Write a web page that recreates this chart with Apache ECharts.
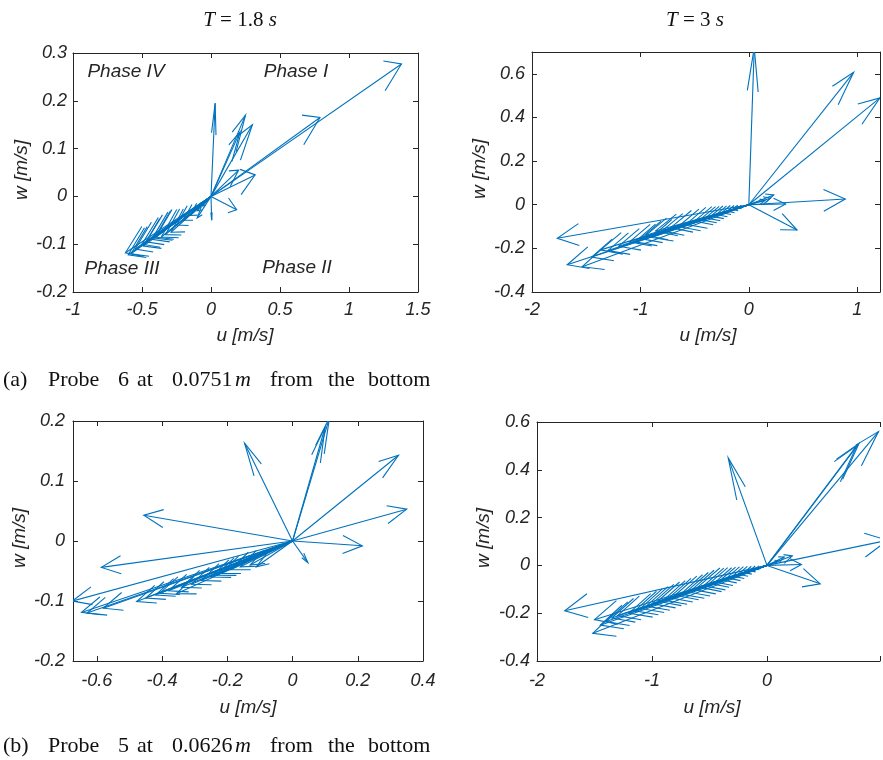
<!DOCTYPE html>
<html>
<head>
<meta charset="utf-8">
<script src="https://cdn.jsdelivr.net/npm/echarts@6/dist/echarts.min.js"></script>
<style>html,body{margin:0;padding:0;background:#fff;}#c{width:883px;height:760px;}</style>
</head>
<body>
<div id="c"></div>
<script>
// ---- Data (u, w tips of velocity vectors, all starting at origin) ----
// (a) Probe 6, T = 1.8 s
const tlU = [1.38, 0.79, 0.32, 0.2, 0.25, 0.3, 0.21, 0.03, 0.005, 0.186, -0.1, -0.06, -0.1, -0.15, -0.2, -0.25, -0.29, -0.33, -0.36, -0.4, -0.43, -0.47, -0.5, -0.55, -0.58, -0.6, -0.62, -0.49, -0.41];
const tlW = [0.277, 0.165, 0.045, 0.055, 0.17, 0.15, 0.135, 0.195, -0.05, -0.028, -0.045, -0.02, -0.03, -0.04, -0.05, -0.06, -0.075, -0.08, -0.085, -0.085, -0.09, -0.095, -0.1, -0.11, -0.12, -0.122, -0.118, -0.104, -0.087];
// (a) Probe 6, T = 3 s
const trU = [0.05, 0.967, 1.21, 0.89, 0.445, 0.34, 0.23, 0.2, 0.15, -1.767, -1.675, -1.536, -1.367, -1.45, -1.3, -1.2, -1.1, -1.05, -1.0, -0.95, -0.9, -0.86, -0.8, -0.72, -0.65, -0.58, -0.5, -0.45, -0.4, -0.35, -0.3, -0.25, -0.2, -0.15, -0.1];
const trW = [0.72, 0.607, 0.49, 0.026, -0.116, 0.003, 0.045, 0.03, 0.02, -0.154, -0.275, -0.284, -0.207, -0.24, -0.21, -0.19, -0.17, -0.17, -0.155, -0.14, -0.15, -0.12, -0.12, -0.105, -0.1, -0.09, -0.075, -0.068, -0.06, -0.052, -0.045, -0.036, -0.03, -0.022, -0.015];
// (b) Probe 5, T = 1.8 s
const blU = [0.113, 0.1, -0.147, 0.325, 0.35, 0.214, 0.047, -0.456, -0.586, -0.675, -0.647, -0.63, -0.58, -0.478, -0.407, -0.356, -0.234, -0.111, -0.45, -0.42, -0.38, -0.34, -0.31, -0.28, -0.25, -0.22, -0.19, -0.16, -0.13];
const blW = [0.205, 0.19, 0.163, 0.143, 0.053, -0.008, -0.036, 0.043, -0.044, -0.1, -0.119, -0.12, -0.112, -0.101, -0.087, -0.088, -0.057, -0.043, -0.095, -0.09, -0.083, -0.077, -0.072, -0.066, -0.06, -0.054, -0.048, -0.043, -0.04];
// (b) Probe 5, T = 3 s
const brU = [-0.337, 0.8, 0.97, 0.78, 1.05, 0.463, 0.3, 0.22, 0.15, 0.1, -1.759, -1.515, -1.5, -1.4, -1.45, -1.35, -1.3, -1.2, -1.15, -1.1, -1.05, -1.0, -0.95, -0.9, -0.85, -0.8, -0.75, -0.7, -0.65, -0.6, -0.55, -0.5, -0.45, -0.4, -0.35, -0.3, -0.25, -0.2, -0.15, -0.1];
const brW = [0.45, 0.51, 0.56, 0.5, 0.105, -0.077, 0.004, 0.04, 0.035, 0.02, -0.19, -0.284, -0.227, -0.235, -0.25, -0.22, -0.21, -0.2, -0.19, -0.18, -0.17, -0.16, -0.15, -0.145, -0.135, -0.125, -0.12, -0.11, -0.1, -0.09, -0.085, -0.075, -0.07, -0.06, -0.052, -0.045, -0.037, -0.03, -0.022, -0.015];

// axis extents / tick steps (the right-hand panels are cut by the figure edge)
const tlX = [-1, 1.5, 0.5], tlY = [-0.2, 0.3, 0.1];
const trX = [-2, 1.21, 1], trY = [-0.4, 0.7, 0.2];
const blX = [-0.673, 0.4, 0.2], blY = [-0.2, 0.2, 0.1];
const brX = [-2, 0.983, 1], brY = [-0.4, 0.6, 0.2];

const titles = ['1.8', '3'];
const captionA = ['(a)', 'Probe', '6', 'at', '0.0751', 'm', 'from', 'the', 'bottom'];
const captionB = ['(b)', 'Probe', '5', 'at', '0.0626', 'm', 'from', 'the', 'bottom'];
const phases = ['Phase IV', 'Phase I', 'Phase III', 'Phase II'];

// ---- Build chart ----
const BLUE = '#0072BD', INK = '#262626';
const panels = [
  {u: tlU, w: tlW, x: tlX, y: tlY, cap: 0.127, grid: {left: 73, top: 53, width: 345, height: 239}, ym: 6, xm: 9, right: true},
  {u: trU, w: trW, x: trX, y: trY, cap: 0.2, grid: {left: 532, top: 52, width: 350, height: 240}, ym: 7, xm: 9, right: true},
  {u: blU, w: blW, x: blX, y: blY, cap: 0.06, grid: {left: 73, top: 421, width: 350, height: 240}, ym: 8, xm: 11, right: true},
  {u: brU, w: brW, x: brX, y: brY, cap: 0.2, grid: {left: 537, top: 422, width: 346, height: 239}, ym: 7, xm: 11, right: false}
];

function fmtFactory(step) {
  return function (v) {
    const k = v / step;
    if (Math.abs(k - Math.round(k)) > 1e-6) return '';
    return String(parseFloat((Math.round(k) * step).toFixed(3)));
  };
}
const labelBase = {color: INK, fontStyle: 'italic', fontFamily: 'Liberation Sans, Arial, sans-serif', fontSize: 18};

function axisCommon(ext, showLabel, margin, showLine) {
  const a = {
    type: 'value', min: ext[0], max: ext[1],
    axisLine: {show: showLine, onZero: false, lineStyle: {color: INK, width: 1}},
    axisTick: {show: showLine, inside: true, length: 5, lineStyle: {color: INK, width: 1}},
    splitLine: {show: false},
    axisLabel: Object.assign({show: showLabel, margin: margin, formatter: fmtFactory(ext[2])}, labelBase)
  };
  if (Math.abs(ext[0] / ext[2] - Math.round(ext[0] / ext[2])) < 1e-9) {
    a.interval = ext[2];
  } else {
    a.minInterval = ext[2]; a.maxInterval = ext[2];
  }
  return a;
}

function makeRender(cap) {
  return function (params, api) {
    const u = api.value(0), w = api.value(1);
    const len = Math.sqrt(u * u + w * w);
    const f = Math.min(0.33, cap / len);
    const b = 0.25;
    const o = api.coord([0, 0]);
    const t = api.coord([u, w]);
    const b1 = api.coord([u - f * (u + b * w), w - f * (w - b * u)]);
    const b2 = api.coord([u - f * (u - b * w), w - f * (w + b * u)]);
    const st = {stroke: BLUE, lineWidth: 1.1, fill: null};
    return {type: 'group', children: [
      {type: 'polyline', shape: {points: [o, t]}, style: st},
      {type: 'polyline', shape: {points: [b1, t, b2]}, style: st}
    ]};
  };
}

const option = {animation: false, backgroundColor: '#fff', grid: [], xAxis: [], yAxis: [], series: [], graphic: []};
panels.forEach((p, i) => {
  option.grid.push(Object.assign({containLabel: false}, p.grid));
  option.xAxis.push(Object.assign(axisCommon(p.x, true, p.xm, true), {gridIndex: i, position: 'bottom'}));
  option.xAxis.push(Object.assign(axisCommon(p.x, false, p.xm, true), {gridIndex: i, position: 'top'}));
  option.yAxis.push(Object.assign(axisCommon(p.y, true, p.ym, true), {gridIndex: i, position: 'left'}));
  option.yAxis.push(Object.assign(axisCommon(p.y, false, p.ym, p.right), {gridIndex: i, position: 'right'}));
  option.series.push({
    type: 'custom', xAxisIndex: 2 * i, yAxisIndex: 2 * i, clip: true,
    renderItem: makeRender(p.cap),
    data: p.u.map((v, k) => [v, p.w[k]])
  });
});

const nameFont = {fill: INK, fontStyle: 'italic', fontFamily: 'Liberation Sans, Arial, sans-serif', fontSize: 19, align: 'center', verticalAlign: 'middle'};
function txt(x, y, text, style, rot) {
  const g = {type: 'text', x: x, y: y, style: Object.assign({text: text}, style)};
  if (rot) g.rotation = rot;
  return g;
}
const uPos = [[245, 336], [708, 336], [248, 708], [712, 708]];
const wPos = [[22, 170], [480, 169], [20, 538], [484, 538]];
uPos.forEach(p => option.graphic.push(txt(p[0], p[1], 'u [m/s]', nameFont)));
wPos.forEach(p => option.graphic.push(txt(p[0], p[1], 'w [m/s]', nameFont, Math.PI / 2)));

const phaseFont = Object.assign({}, nameFont, {fontSize: 19});
const phasePos = [[126, 72], [296, 72], [122, 269], [297, 268]];
phases.forEach((t, k) => option.graphic.push(txt(phasePos[k][0], phasePos[k][1], t, phaseFont)));

// titles T = ... s
const titlePos = [[240, 20], [695, 20]];
titles.forEach((v, k) => {
  option.graphic.push({
    type: 'text', x: titlePos[k][0], y: titlePos[k][1],
    style: {
      text: '{i|T} = ' + v + ' {i|s}',
      fill: '#111', fontFamily: 'Liberation Serif, serif', fontSize: 21, align: 'center', verticalAlign: 'middle',
      rich: {i: {fontStyle: 'italic', fontFamily: 'Liberation Serif, serif', fontSize: 21, fill: '#111'}}
    }
  });
});

// captions
const capX = [3, 48, 118, 137, 172, 235, 270, 328, 368];
function caption(words, y) {
  words.forEach((w, k) => {
    option.graphic.push({
      type: 'text', x: capX[k], y: y,
      style: {text: w, fill: '#111', fontFamily: 'Liberation Serif, serif', fontSize: 22,
        fontStyle: w === 'm' ? 'italic' : 'normal', align: 'left', verticalAlign: 'middle'}
    });
  });
}
caption(captionA, 380);
caption(captionB, 746);

const chart = echarts.init(document.getElementById('c'), null, {renderer: 'canvas'});
chart.setOption(option);
</script>
</body>
</html>
